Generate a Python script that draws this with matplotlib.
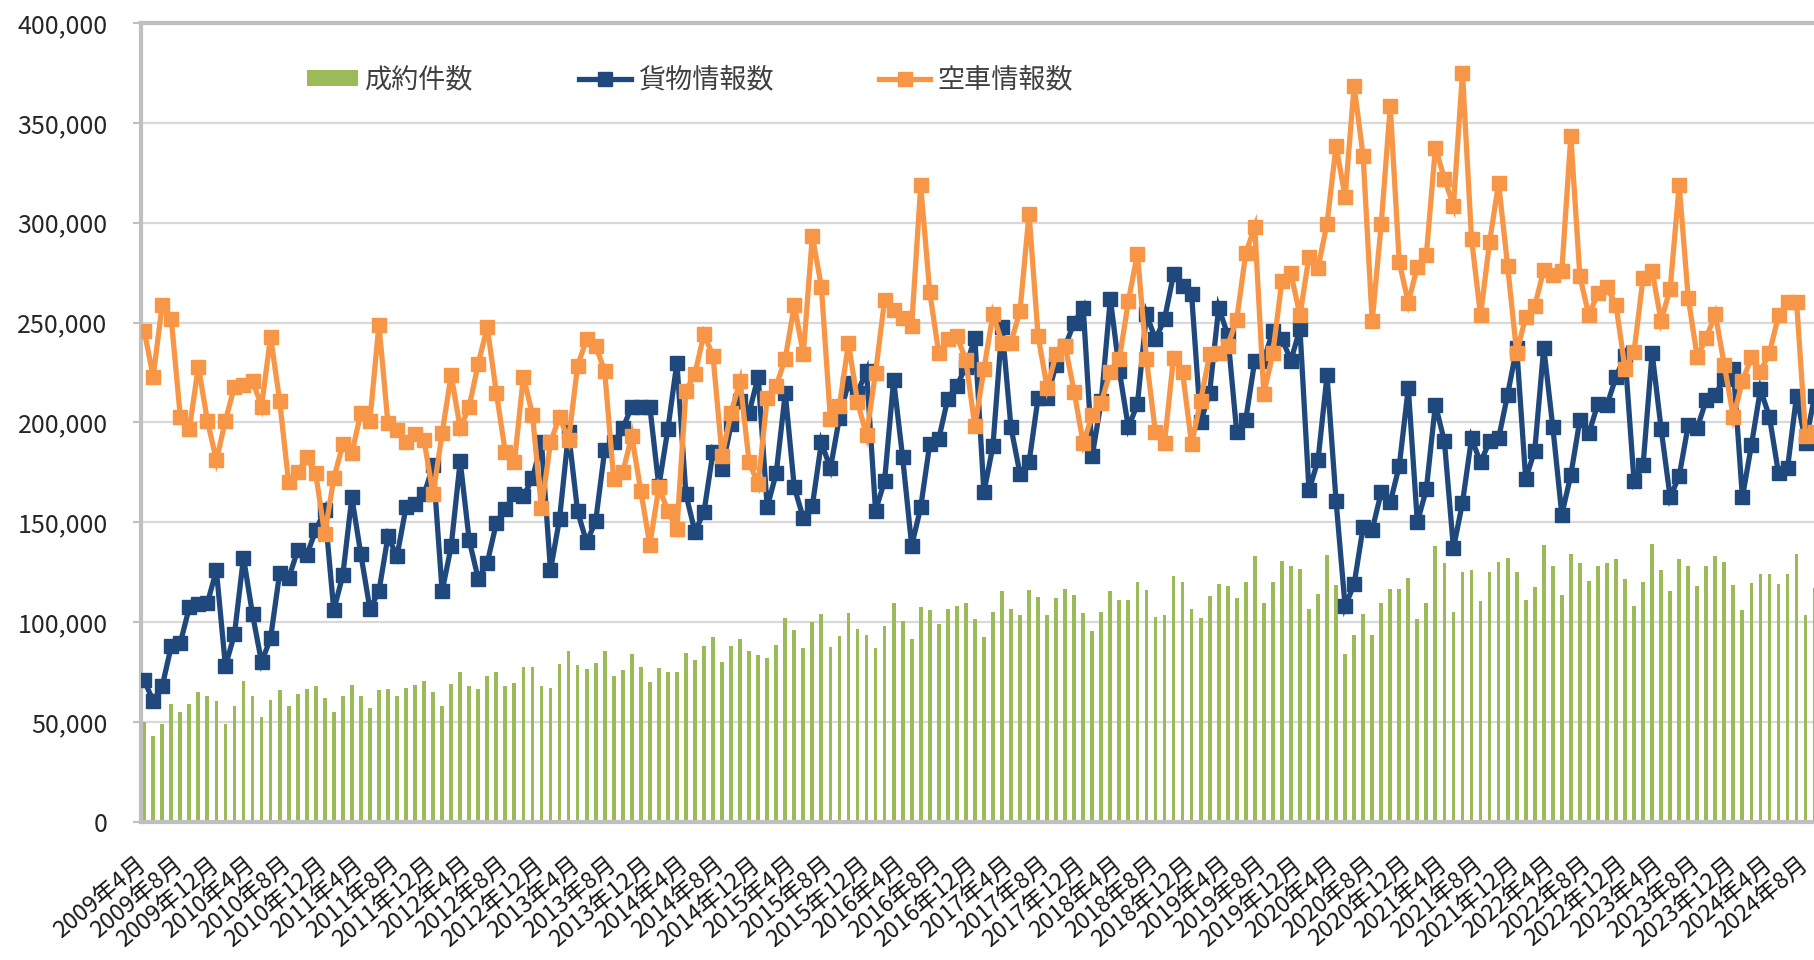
import matplotlib
matplotlib.use('Agg')
import matplotlib.pyplot as plt
from matplotlib.ticker import FuncFormatter, MultipleLocator
import numpy as np

plt.rcParams['font.family'] = ['Noto Sans CJK JP', 'DejaVu Sans']

# 成約件数 (monthly, from 2009年4月)
contracts = [
    50000, 43000, 49000, 59000, 55000, 59000, 65000, 63000, 60500, 49000,
    58000, 70500, 63000, 52500, 61000, 66000, 58000, 64000, 66500, 68000,
    62000, 55000, 63000, 68600, 63000, 57000, 66000, 66500, 63000, 67000,
    68600, 70500, 65000, 58000, 69000, 75000, 68000, 66500, 73000, 75000,
    68000, 69500, 77500, 77500, 68000, 67000, 79000, 85500, 78500, 76700,
    79400, 85500, 73000, 76000, 84000, 77700, 70000, 77000, 75000, 75000,
    84700, 81000, 88000, 92800, 80000, 88000, 91700, 85800, 83600, 82300,
    88700, 102000, 96000, 87000, 100000, 104000, 87400, 93300, 104800, 96800,
    93600, 87000, 98000, 109400, 100800, 91400, 107800, 106000, 99000, 106400,
    108300, 109700, 101600, 92800, 105000, 115500, 106700, 103500, 116000, 112600,
    103500, 112300, 116400, 113700, 104600, 95400, 105000, 115800, 111000, 111300,
    120400, 116000, 102700, 103500, 123300, 120400, 106700, 102000, 112900, 119000,
    118000, 112000, 120400, 133000, 109700, 120400, 130800, 128400, 126800, 106700,
    114200, 133500, 118800, 84000, 93600, 104300, 93600, 109700, 116400, 116400,
    122300, 101600, 109700, 138300, 129800, 105100, 125000, 126000, 110500, 125000,
    130300, 132200, 125000, 111000, 117400, 138900, 128400, 113400, 134300, 129800,
    120900, 128200, 129800, 131600, 121700, 108000, 120100, 139400, 126000, 115500,
    131600, 128200, 118200, 128200, 133000, 130300, 118800, 105900, 119600, 124100,
    124100, 119000, 124100, 134300, 103500, 117000]

# 貨物情報数
freight = [
    71000, 60500, 68000, 88000, 89500, 107500, 109000, 109600, 126000, 78000,
    94000, 132400, 104000, 80000, 92000, 124500, 122000, 136000, 133500, 146000,
    156000, 106000, 123600, 162500, 134000, 106700, 115500, 143000, 133000, 157600,
    159000, 164000, 178500, 115500, 138000, 180700, 141000, 121700, 129800, 149600,
    156600, 164000, 163000, 172000, 190000, 126000, 151700, 195000, 155500, 140000,
    150500, 186000, 190000, 197000, 208000, 208000, 208000, 168000, 196700, 230000,
    164000, 145300, 155300, 185300, 176700, 199000, 211000, 205000, 223000, 157500,
    174700, 214700, 167500, 152200, 158300, 190000, 177000, 202500, 220000, 215000,
    225800, 155800, 170800, 221300, 182500, 138300, 157500, 189200, 191700, 212000,
    218300, 228000, 242200, 165000, 188300, 248000, 197500, 174200, 180000, 212500,
    212500, 229000, 238300, 250000, 257500, 183300, 211000, 262000, 225800, 197500,
    209200, 254200, 241700, 251700, 274200, 268300, 264200, 200000, 215000, 257500,
    244000, 195000, 201500, 231000, 231000, 246000, 242000, 231000, 247000, 166000,
    181000, 223700, 160700, 108000, 119000, 147800, 146300, 165000, 160000, 178300,
    217400, 150000, 166600, 209000, 190500, 137000, 159800, 192000, 180000, 190600,
    192000, 214000, 237500, 171800, 185800, 237500, 197900, 153900, 173700, 201300,
    194600, 209400, 208600, 222800, 233500, 170500, 178600, 234900, 196800, 162500,
    173200, 198700, 197300, 211300, 214000, 222000, 226800, 162500, 188700, 216600,
    202700, 174500, 177200, 213400, 189800, 213400]

# 空車情報数
vacant = [
    246000, 223000, 259000, 252000, 203000, 196500, 228000, 201000, 181000, 201000,
    218000, 219000, 221000, 208000, 243000, 211000, 170000, 175000, 182500, 174500,
    144000, 172000, 189000, 184500, 205000, 201000, 249000, 199500, 196000, 190000,
    194000, 191000, 164000, 194600, 224000, 197000, 208000, 229500, 247700, 215000,
    185000, 180000, 223000, 204000, 157000, 190000, 203000, 191000, 228300, 241700,
    238300, 225800, 171700, 175000, 193300, 165800, 138700, 167500, 155800, 146700,
    215800, 224500, 244200, 233300, 183300, 205000, 220800, 180000, 169200, 212500,
    218300, 232000, 258700, 234200, 293300, 268000, 201700, 208300, 239700, 210300,
    193700, 225000, 261300, 256300, 252500, 248300, 318700, 265300, 234700, 241700,
    243300, 231300, 198000, 226700, 254200, 240000, 240000, 256000, 304600, 243300,
    217500, 234200, 238300, 215300, 189500, 203700, 210000, 225500, 231700, 260800,
    284500, 231700, 195000, 189700, 232500, 225300, 189200, 210800, 234200, 235000,
    238500, 251500, 284800, 297800, 214400, 234800, 271000, 274600, 253700, 283000,
    277400, 299600, 338500, 313000, 368500, 333300, 250600, 299300, 358300, 280200,
    260000, 278000, 284000, 337600, 322000, 308600, 375000, 292000, 253600, 290300,
    319800, 278300, 234900, 252800, 258200, 276400, 273700, 275900, 343400, 273200,
    253600, 264900, 267600, 259000, 226800, 235400, 272400, 275900, 250900, 267000,
    318800, 262500, 232700, 242400, 254200, 228700, 202700, 220600, 232700, 225500,
    234900, 253600, 260300, 260300, 193300, 195000]

series_names = ['成約件数', '貨物情報数', '空車情報数']
months = [f"{2009 + (3 + k) // 12}年{(3 + k) % 12 + 1}月" for k in range(len(contracts))]
tick_positions = list(range(0, len(months), 4))
tick_labels = [months[k] for k in tick_positions]

W, H = 1814, 960
fig = plt.figure(figsize=(W / 100, H / 100), dpi=100)
fig.patch.set_facecolor('white')
ax = fig.add_axes([141 / W, 138 / H, (W - 141) / W, 799 / H])
ax.set_facecolor('white')

x = np.arange(len(months))
bars = ax.bar(x, contracts, width=0.42, color='#9BBB59', zorder=2, label=series_names[0])
l1, = ax.plot(x, freight, color='#1F497D', lw=3.8, marker='s', ms=10.5,
              solid_joinstyle='miter', zorder=3, label=series_names[1])
l2, = ax.plot(x, vacant, color='#F79646', lw=3.8, marker='s', ms=10.5,
              solid_joinstyle='miter', zorder=4, label=series_names[2])

ax.set_xlim(-0.35, 184.93)
ax.set_ylim(0, 400000)
ax.yaxis.set_major_locator(MultipleLocator(50000))
ax.yaxis.set_major_formatter(FuncFormatter(lambda v, p: f"{int(round(v)):,}"))
ax.grid(axis='y', color='#D9D9D9', lw=1.6, zorder=0)
ax.set_axisbelow(True)

ax.set_xticks(tick_positions)
ax.set_xticklabels(tick_labels, rotation=40, ha='right', va='center',
                   rotation_mode='anchor', fontsize=17, color='#1a1a1a')
ax.tick_params(axis='x', length=0, pad=29)
ax.tick_params(axis='y', length=6, width=1.5, color='#BFBFBF', pad=18,
               labelsize=18, labelcolor='#262626')

for s in ['left', 'top', 'bottom']:
    ax.spines[s].set_color('#BFBFBF')
    ax.spines[s].set_linewidth(3)
ax.spines['right'].set_visible(False)

leg = ax.legend([bars, l1, l2], series_names, loc='center left',
                bbox_to_anchor=(307 / W, 1 - 80 / H),
                bbox_transform=fig.transFigure, ncol=3, frameon=False,
                fontsize=19.5, handlelength=1.9, handleheight=0.5,
                handletextpad=0.25, columnspacing=3.9, borderpad=0,
                borderaxespad=0)
for t in leg.get_texts():
    t.set_color('#404040')

fig.savefig('out.png', dpi=100)
